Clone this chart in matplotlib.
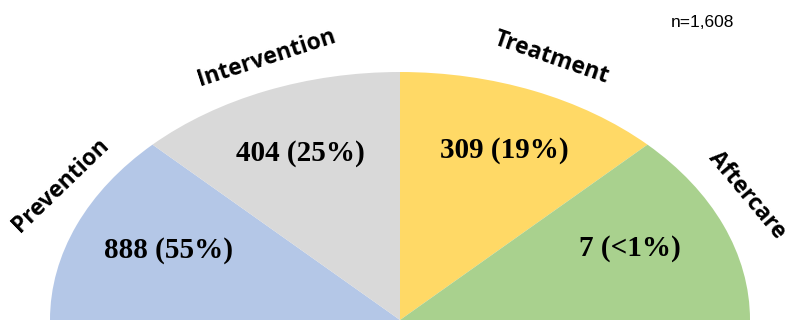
import matplotlib.pyplot as plt

categories = ['Prevention', 'Intervention', 'Treatment', 'Aftercare']
counts = [888, 404, 309, 7]
pct_labels = ['55%', '25%', '19%', '<1%']
colors = ['#B4C7E7', '#D9D9D9', '#FFD966', '#A9D18E']
total = 1608

W, H = 791, 322
fig = plt.figure(figsize=(W / 100, H / 100), dpi=100)

# half pie: the 4 stages get equal slices, bottom half is hidden
cx, cy, rx, ry = 400, 320, 350, 248
ax = fig.add_axes([(cx - rx) / W, (H - cy - ry) / H, 2 * rx / W, 2 * ry / H])
ax.pie([1] * len(categories) + [len(categories)], colors=colors + ['none'],
       startangle=180, counterclock=False, radius=1,
       wedgeprops=dict(linewidth=0))
ax.set_xlim(-1, 1)
ax.set_ylim(-1, 1)
ax.set_aspect('auto')
ax.axis('off')

# overlay for the text, in pixel coords
tx = fig.add_axes([0, 0, 1, 1])
tx.set_xlim(0, W)
tx.set_ylim(H, 0)
tx.axis('off')

val_xy = [(168, 251), (300, 153), (504, 150), (630, 248)]
for (x, y), c, p in zip(val_xy, counts, pct_labels):
    tx.text(x, y, f'{c} ({p})', ha='center', va='center', fontsize=21,
            fontweight='bold', family='Liberation Serif')

cat_xy = [(61, 185), (267, 58), (551, 58), (747, 195)]
cat_rot = [44, 18, -19, -50]
for (x, y), name, r in zip(cat_xy, categories, cat_rot):
    tx.text(x, y, name, ha='center', va='center', rotation=r, fontsize=16.5,
            fontweight='bold', family='Open Sans', rotation_mode='anchor')

tx.text(702, 22, f'n={total:,}', ha='center', va='center', fontsize=12.5,
        family='Liberation Sans')

fig.savefig('out.png', dpi=100)
